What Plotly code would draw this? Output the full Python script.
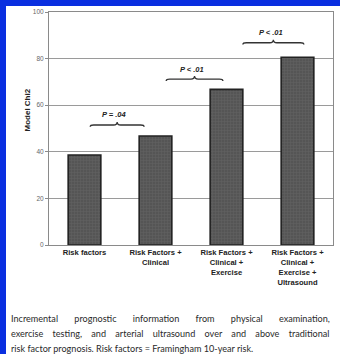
import plotly.graph_objects as go

categories = ["Risk factors", "Risk Factors +<br>Clinical", "Risk Factors +<br>Clinical +<br>Exercise",
              "Risk Factors +<br>Clinical +<br>Exercise +<br>Ultrasound"]
model_chi2 = [38.6, 46.8, 66.8, 80.6]
y_ticks = [0, 20, 40, 60, 80, 100]
p_labels = ["P = .04", "P < .01", "P < .01"]
bracket_levels = [51.5, 71.2, 86.8]
caption_lines = [
    "Incremental prognostic information from physical examination,",
    "exercise testing, and arterial ultrasound over and above traditional",
    "risk factor prognosis. Risk factors = Framingham 10-year risk.",
]
caption_gap = [7, 4, 1]  # spaces per word gap (justification)

# plot-area geometry (pixels) for positioning paper-referenced decorations
L, R, T, B = 49, 7, 12, 109
W, H = 340, 354
pw, ph = W - L - R, H - T - B

def px_x(p):
    return (p - L) / pw

def px_y(p):
    return (H - B - p) / ph

xs = list(range(len(categories)))

fig = go.Figure()
fig.add_trace(go.Bar(
    x=xs, y=model_chi2, width=0.46,
    marker=dict(color="#555555",
                line=dict(color="#222222", width=1.6),
                pattern=dict(shape="+", fgcolor="#6e6e6e", bgcolor="#555555", size=3, solidity=0.35)),
    showlegend=False,
))

blue = "#0a2fe0"
shapes = []
annotations = [
    # blue frame strips (left and top)
    dict(x=px_x(0), y=px_y(0), xref="paper", yref="paper", xanchor="left", yanchor="top",
         text="\u00a0", width=6, height=H, bgcolor=blue, borderpad=0, borderwidth=0,
         showarrow=False, font=dict(size=2)),
    dict(x=px_x(0), y=px_y(0), xref="paper", yref="paper", xanchor="left", yanchor="top",
         text="\u00a0", width=W, height=6, bgcolor=blue, borderpad=0, borderwidth=0,
         showarrow=False, font=dict(size=2)),
]

spans = [(0.08, 0.84, 0.46), (1.15, 1.95, 1.55), (2.23, 3.09, 2.66)]
for (x0, x1, xm), lvl, lab in zip(spans, bracket_levels, p_labels):
    h = 1.3
    e = 0.05
    path = (f"M {x0},{lvl - h * 0.6} Q {x0},{lvl} {x0 + e},{lvl} L {xm - e},{lvl} "
            f"Q {xm},{lvl} {xm},{lvl + h} Q {xm},{lvl} {xm + e},{lvl} L {x1 - e},{lvl} "
            f"Q {x1},{lvl} {x1},{lvl - h * 0.6}")
    shapes.append(dict(type="path", xref="x", yref="y", path=path,
                       line=dict(color="#333333", width=1.3)))
    annotations.append(dict(x=xm - 0.04, y=lvl + 4.3, xref="x", yref="y", text=f"<b><i>{lab}</i></b>",
                            showarrow=False, font=dict(size=7.5, color="#222", family="Liberation Sans")))

annotations.append(dict(x=px_x(21), y=px_y(110), xref="paper", yref="paper", text="<b>Model Chi2</b>",
                        textangle=-90, showarrow=False,
                        font=dict(size=8, color="#222", family="Liberation Sans")))

for i, (line, g) in enumerate(zip(caption_lines, caption_gap)):
    txt = ("\u00a0" * g).join(line.split(" "))
    annotations.append(dict(x=px_x(9), y=px_y(318 + 15 * i), xref="paper", yref="paper",
                            text=txt, xanchor="left", yanchor="middle", showarrow=False,
                            font=dict(size=9.1, color="#2a2a2a", family="Lato")))

fig.update_layout(
    width=W, height=H,
    margin=dict(l=L, r=R, t=T, b=B, pad=0),
    paper_bgcolor="white",
    plot_bgcolor="white",
    shapes=shapes,
    annotations=annotations,
    xaxis=dict(tickvals=xs, ticktext=[f"<b>{c}</b>" for c in categories], range=[-0.5, 3.5],
               showgrid=False, showline=True, linecolor="#8a8a8a", linewidth=1, mirror=True,
               ticks="", tickfont=dict(size=7.6, color="#222", family="Liberation Sans")),
    yaxis=dict(range=[0, 100], tickvals=y_ticks, showgrid=True, gridcolor="#9a9a9a", gridwidth=1,
               showline=True, linecolor="#8a8a8a", linewidth=1, mirror=True,
               ticks="outside", ticklen=3, tickcolor="#8a8a8a",
               tickfont=dict(size=6.5, color="#666", family="Liberation Sans"), zeroline=False),
)

fig.write_html("out.html")
